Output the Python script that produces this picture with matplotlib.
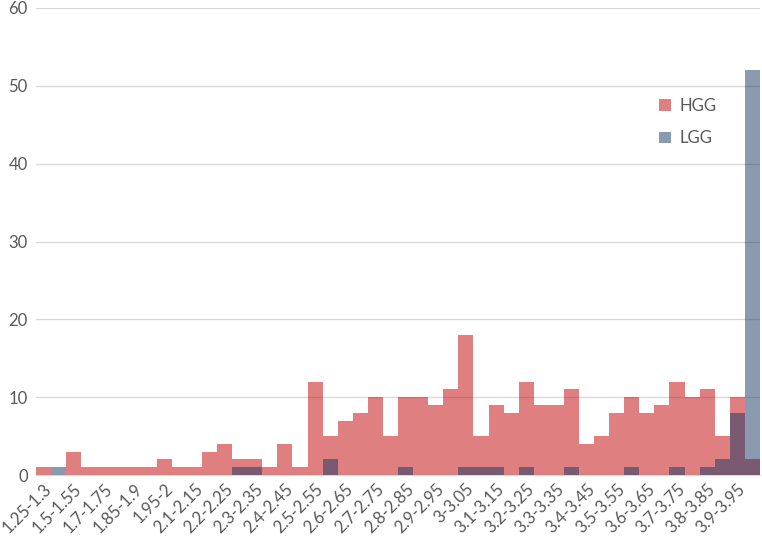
import matplotlib
matplotlib.use("Agg")
import matplotlib.pyplot as plt
import numpy as np

# bins (every category of the chart, only every other one is labelled)
categories = ["1.25-1.3", "1.45-1.5", "1.5-1.55", "1.6-1.65", "1.7-1.75", "1.8-1.85",
              "1.85-1.9", "1.9-1.95", "1.95-2", "2-2.05",
              "2.1-2.15", "2.15-2.2", "2.2-2.25", "2.25-2.3", "2.3-2.35", "2.35-2.4",
              "2.4-2.45", "2.45-2.5", "2.5-2.55", "2.55-2.6", "2.6-2.65", "2.65-2.7",
              "2.7-2.75", "2.75-2.8", "2.8-2.85", "2.85-2.9", "2.9-2.95", "2.95-3",
              "3-3.05", "3.05-3.1", "3.1-3.15", "3.15-3.2", "3.2-3.25", "3.25-3.3",
              "3.3-3.35", "3.35-3.4", "3.4-3.45", "3.45-3.5", "3.5-3.55", "3.55-3.6",
              "3.6-3.65", "3.65-3.7", "3.7-3.75", "3.75-3.8", "3.8-3.85", "3.85-3.9",
              "3.9-3.95", "3.95-4"]

hgg = [1, 0, 3, 1, 1, 1, 1, 1, 2, 1,
       1, 3, 4, 2, 2, 1, 4, 1, 12, 5,
       7, 8, 10, 5, 10, 10, 9, 11, 18, 5,
       9, 8, 12, 9, 9, 11, 4, 5, 8, 10,
       8, 9, 12, 10, 11, 5, 10, 2]

lgg = [0, 1, 0, 0, 0, 0, 0, 0, 0, 0,
       0, 0, 0, 1, 1, 0, 0, 0, 0, 2,
       0, 0, 0, 0, 1, 0, 0, 0, 1, 1,
       1, 0, 1, 0, 0, 1, 0, 0, 0, 1,
       0, 0, 1, 0, 1, 2, 8, 52]

plt.rcParams['font.family'] = ['Lato', 'DejaVu Sans']

fig = plt.figure(figsize=(7.62, 5.39), dpi=100)
ax = fig.add_axes([36 / 762, 1 - 475 / 539, 724 / 762, 467 / 539])

x = np.arange(len(categories))
edges = np.arange(len(categories) + 1) - 0.5
# filled steps -> no seams between the touching bars
ax.stairs(hgg, edges, fill=True, color="#C00000", alpha=0.5, label="HGG", zorder=2,
          linewidth=0)
ax.stairs(lgg, edges, fill=True, color="#153765", alpha=0.5, label="LGG", zorder=3,
          linewidth=0)

ax.set_xlim(-0.5, len(categories) - 0.5)
ax.set_ylim(0, 60)
ax.set_yticks(range(0, 61, 10))
ax.yaxis.grid(True, color="#D9D9D9", linewidth=1)
ax.set_axisbelow(True)

ax.set_xticks(x[::2])
ax.set_xticklabels(categories[::2], rotation=45, ha="right", rotation_mode="anchor")
ax.tick_params(axis="both", length=0, labelsize=12, colors="#595959")
ax.tick_params(axis="x", pad=4)
ax.tick_params(axis="y", pad=6)

for s in ["top", "right", "left"]:
    ax.spines[s].set_visible(False)
ax.spines["bottom"].set_color("#D9D9D9")

leg = ax.legend(loc="upper left", bbox_to_anchor=(0.84, 0.84), frameon=False,
                fontsize=12, handlelength=0.7, handleheight=0.7, labelspacing=1.0,
                handletextpad=0.5)
for t in leg.get_texts():
    t.set_color("#595959")

fig.savefig("out.png", dpi=100)
